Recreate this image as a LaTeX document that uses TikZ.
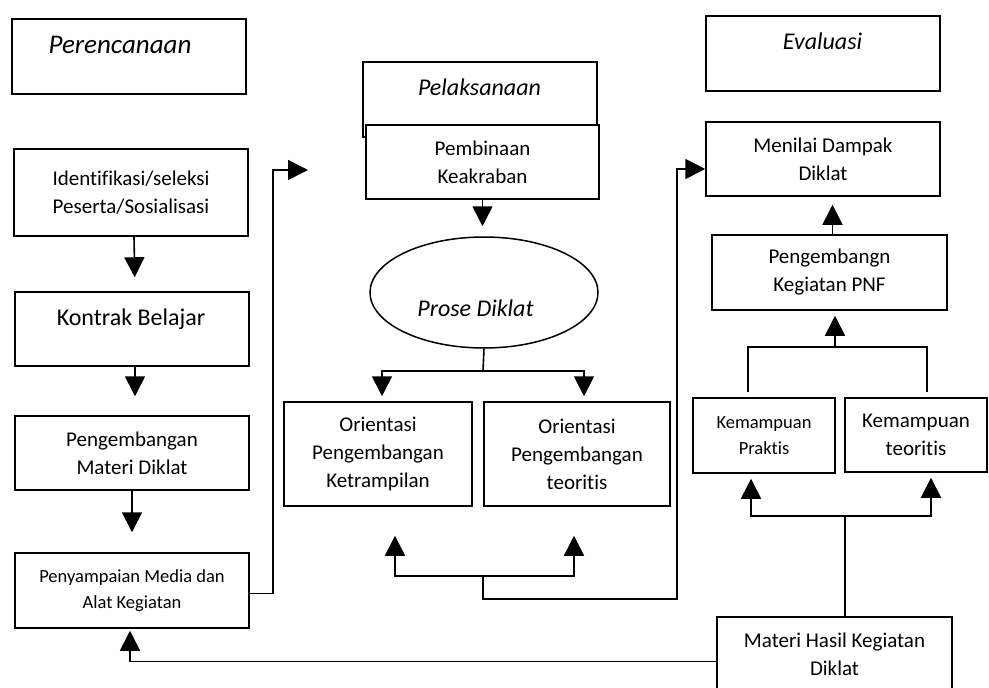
\documentclass[tikz,border=0pt]{standalone}
\usepackage{fontspec}
\setmainfont{Carlito}[Ligatures=NoCommon]
\usetikzlibrary{arrows.meta,shapes.geometric}
\tikzset{
  box/.style={draw, line width=1.5pt, fill=white, inner sep=0pt, align=center,
    font=\fontsize{21}{28}\selectfont},
  smallbox/.style={box, font=\fontsize{18.5}{26}\selectfont},
  conn/.style={line width=1.6pt},
  arr/.style={conn, -{Triangle[width=20pt,length=20pt]}},
  ttl/.style={inner sep=0pt, anchor=base, font=\fontsize{24}{28}\selectfont\itshape},
  txt/.style={inner sep=0pt, anchor=base, font=\fontsize{24}{28}\selectfont},
}
\begin{document}
\begin{tikzpicture}[x=1pt,y=-1pt]
\clip (0,0) rectangle (989,688);
% left column
\node[box, minimum width=234pt, minimum height=75pt] (per) at (129,56.5) {};
\node[ttl, font=\fontsize{27}{30}\selectfont\itshape] (perT) at (120,53) {Perencanaan};
\node[box, minimum width=234pt, minimum height=87pt] (ident) at (131,192.5) {Identifikasi/seleksi\\Peserta/Sosialisasi};
\node[box, minimum width=234pt, minimum height=74pt] (kontrak) at (132,329) {};
\node[txt] (kontrakT) at (131,325) {Kontrak Belajar};
\node[box, minimum width=234pt, minimum height=74pt] (pengMat) at (132,453) {Pengembangan\\Materi Diklat};
\node[smallbox, minimum width=234pt, minimum height=75pt] (penyamp) at (132,590.5) {Penyampaian Media dan\\Alat Kegiatan};
% middle column
\node[box, minimum width=234pt, minimum height=75pt] (pel) at (480,99.5) {};
\node[ttl] (pelT) at (479.5,95) {Pelaksanaan};
\node[box, minimum width=233pt, minimum height=74pt] (pemb) at (482.5,162) {Pembinaan\\Keakraban};
\node[draw, ellipse, line width=1.5pt, inner sep=0pt, minimum width=228pt, minimum height=111pt] (prose) at (484,292.5) {};
\node[ttl] (proseT) at (475.5,316) {Prose Diklat};
\node[box, minimum width=188pt, minimum height=104pt] (oriL) at (378,454) {Orientasi\\Pengembangan\\Ketrampilan};
\node[box, minimum width=186pt, minimum height=104pt] (oriR) at (577,454) {Orientasi\\Pengembangan\\teoritis};
% right column
\node[box, minimum width=234pt, minimum height=75pt] (eval) at (823,53.5) {};
\node[ttl] (evalT) at (822.5,49) {Evaluasi};
\node[box, minimum width=234pt, minimum height=74pt] (menilai) at (823,159) {Menilai Dampak\\Diklat};
\node[box, minimum width=235pt, minimum height=75pt] (pengPNF) at (829.5,272.5) {Pengembangn\\Kegiatan PNF};
\node[smallbox, minimum width=142pt, minimum height=75pt] (kemP) at (764,435.5) {Kemampuan\\Praktis};
\node[box, minimum width=142pt, minimum height=74pt] (kemT) at (916,435) {Kemampuan\\teoritis};
\node[box, minimum width=235pt, minimum height=75pt] (materi) at (834.5,654.5) {Materi Hasil Kegiatan\\Diklat};
% coordinates
\coordinate (tipA) at (308,170);
\coordinate (f1) at (483,371);
\coordinate (f2) at (483,576);
\coordinate (f3) at (835,347);
\coordinate (f4) at (845,516);
% left column arrows
\draw[arr, shorten >=14pt] ([xshift=3pt]ident.south) -- ([xshift=3pt]kontrak.north);
\draw[arr, shorten >=19pt] ([xshift=3pt]kontrak.south) -- ([xshift=3pt]pengMat.north);
\draw[arr, shorten >=20pt] (pengMat.south) -- (penyamp.north);
\draw[arr] ([yshift=-3pt]penyamp.east) -| ([xshift=-35pt]tipA) -- (tipA);
% middle column
\draw[arr, shorten >=10pt] (pemb.south) -- (pemb.south |- prose.north);
\draw[conn] (prose.south) -- (f1);
\draw[arr, shorten >=5pt] (f1) -| ([xshift=4pt]oriL.north);
\draw[arr, shorten >=5pt] (f1) -| ([xshift=7pt]oriR.north);
\draw[arr, shorten >=29pt] (f2) -| ([xshift=17pt]oriL.south);
\draw[arr, shorten >=29pt] (f2) -| ([xshift=-3pt]oriR.south);
\draw[arr] (f2) -- ++(0,23) -| ([xshift=-28pt,yshift=-10pt]menilai.west) -- ([yshift=-10pt]menilai.west);
% right column
\draw[arr, shorten >=8pt] ([xshift=3pt]pengPNF.north) -- ([xshift=3pt]pengPNF.north |- menilai.south);
\draw[conn] ([xshift=-16pt,yshift=5pt]kemP.north) |- (f3);
\draw[conn] ([xshift=11pt,yshift=5pt]kemT.north) |- (f3);
\draw[arr, shorten >=5pt] (f3) -- (f3 |- pengPNF.south);
\draw[conn] (materi.north -| f4) -- (f4);
\draw[arr, shorten >=5pt] (f4) -| ([xshift=-13pt]kemP.south);
\draw[arr, shorten >=5pt] (f4) -| ([xshift=15pt]kemT.south);
\draw[arr, shorten >=2pt] ([yshift=-7pt]materi.west) -| ([xshift=-2pt]penyamp.south);
\end{tikzpicture}
\end{document}
